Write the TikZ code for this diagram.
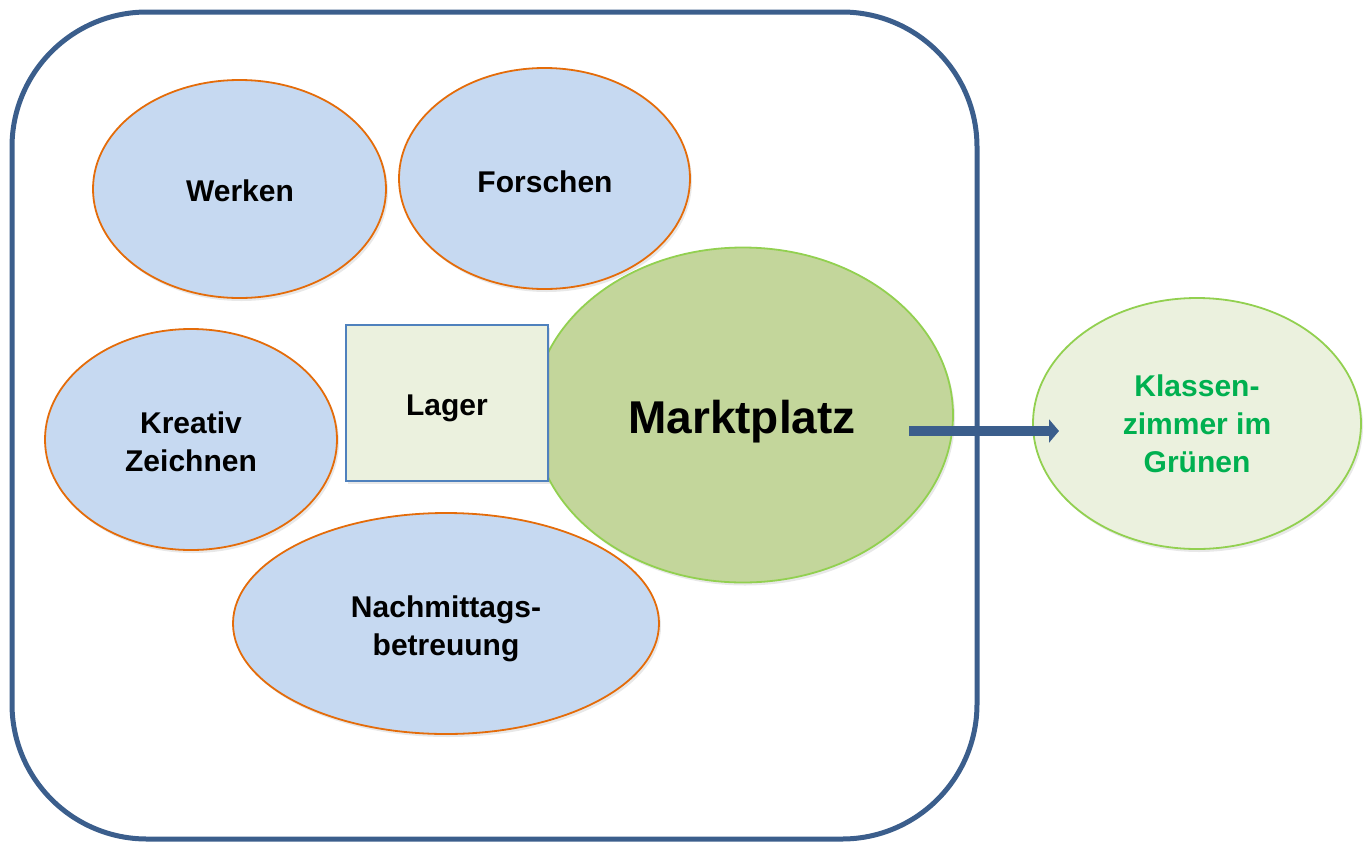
\documentclass[tikz,border=0pt]{standalone}
\usepackage{fontspec}
\setmainfont{Liberation Sans}
\usepackage{tikz}
\usetikzlibrary{arrows.meta,shapes,shadows}

\definecolor{hellblau}{HTML}{C6D9F1}
\definecolor{orange}{HTML}{E46C0A}
\definecolor{gruenfill}{HTML}{C3D69B}
\definecolor{gruenrand}{HTML}{92D050}
\definecolor{blass}{HTML}{EBF1DE}
\definecolor{lagerrand}{HTML}{4F81BD}
\definecolor{dunkelblau}{HTML}{3B5E8C}
\definecolor{gruentext}{HTML}{00B050}

\begin{document}
\begin{tikzpicture}[x=1pt,y=-1pt,
	schatten/.style={drop shadow={opacity=0.18,shadow xshift=2pt,shadow yshift=-3pt}},
	raum/.style={ellipse,draw=orange,line width=1.8pt,fill=hellblau,inner sep=0pt,schatten},
	markt/.style={ellipse,draw=gruenrand,line width=1.8pt,fill=gruenfill,inner sep=0pt,schatten},
	draussen/.style={ellipse,draw=gruenrand,line width=1.8pt,fill=blass,inner sep=0pt,schatten},
	lager/.style={rectangle,draw=lagerrand,line width=1.8pt,fill=blass,inner sep=0pt,schatten},
	schrift/.style={align=center,font=\fontsize{30}{37.5}\selectfont\bfseries},
	pfeil/.style={draw=dunkelblau,line width=10pt,-{Triangle[length=10pt,width=23pt]}}]
\useasboundingbox (0,0) rectangle (1370,841);

% draw school frame
\draw[dunkelblau,line width=5pt,rounded corners=135pt] (12,12) rectangle (977,839);

% draw rooms
\node[raum,minimum width=293,minimum height=218] (werken) at (239.5,189) {};
\node[raum,minimum width=291,minimum height=221] (forschen) at (544.5,178.5) {};
\node[raum,minimum width=292,minimum height=221] (kreativ) at (191,439.5) {};
\node[raum,minimum width=426,minimum height=221] (nachmittag) at (446,623.5) {};

% market place and store
\node[markt,minimum width=420,minimum height=335] (marktplatz) at (743,415) {};
\node[lager,minimum width=202,minimum height=156] (lagerraum) at (447,403) {};

% outside
\node[draussen,minimum width=328,minimum height=251] (gruen) at (1197,423.5) {};

% texts
\node[schrift] (werkentext) at (240,191) {Werken};
\node[schrift] (forschentext) at (545,182) {Forschen};
\node[schrift] (kreativtext) at (191,442) {Kreativ\\Zeichnen};
\node[schrift] (nachmittagtext) at (446,629) {Nachmittags-\\betreuung};
\node[schrift,font=\fontsize{46}{56}\selectfont\bfseries] (markttext) at (742,422) {Marktplatz};
\node[schrift] (lagertext) at (447,408) {Lager};
\node[schrift,text=gruentext,font=\fontsize{30}{38}\selectfont\bfseries] (gruentext) at (1197,424) {Klassen-\\zimmer im\\Grünen};

% draw arrow
\coordinate (pfeilstart) at (909,431);
\coordinate (pfeilende) at (1059,431);
\draw[pfeil] (pfeilstart) -- (pfeilende);

\end{tikzpicture}
\end{document}
